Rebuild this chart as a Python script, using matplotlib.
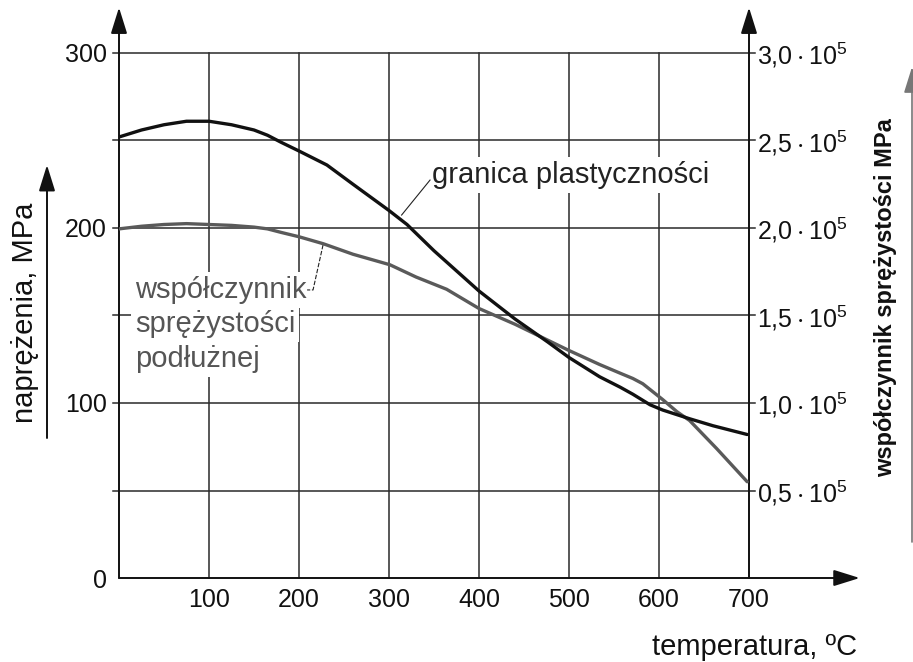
import matplotlib
matplotlib.use('Agg')
import matplotlib.pyplot as plt

plt.rcParams['font.family'] = ['Liberation Sans', 'DejaVu Sans']
plt.rcParams['mathtext.fontset'] = 'custom'
plt.rcParams['mathtext.rm'] = 'Liberation Sans'
plt.rcParams['mathtext.default'] = 'regular'

# granica plastycznosci (MPa), left axis
temp_yield = [0, 25, 50, 75, 100, 125, 150, 165, 180, 200, 231, 260, 300, 320, 350,
              400, 440, 476, 500, 534, 557, 571, 590, 604, 634, 660, 698]
yield_mpa = [252, 256, 259, 261, 261, 259, 256, 253, 249, 244, 236, 225, 210, 202, 187,
             164, 148, 135, 126, 115, 109, 105, 99, 96, 91, 87, 82]

# wspolczynnik sprezystosci (in 1000 MPa, plotted on left scale)
temp_mod = [0, 25, 50, 75, 100, 125, 150, 165, 180, 200, 227, 260, 301, 330, 364,
            400, 440, 476, 500, 534, 557, 571, 582, 604, 620, 634, 664, 698]
modulus_k = [199.5, 201, 202, 202.5, 202, 201.5, 200.5, 199.5, 197.5, 195, 191, 185, 179,
             172, 165, 154, 145, 136, 130, 122, 117, 114, 111, 102, 95, 90, 74, 55]

x_ticks = [100, 200, 300, 400, 500, 600, 700]
y_ticks = [0, 100, 200, 300]
y_grid = [50, 100, 150, 200, 250, 300]
right_ticks = [50000, 100000, 150000, 200000, 250000, 300000]
right_labels = [r'$0{,}5\cdot10^{5}$', r'$1{,}0\cdot10^{5}$', r'$1{,}5\cdot10^{5}$',
                r'$2{,}0\cdot10^{5}$', r'$2{,}5\cdot10^{5}$', r'$3{,}0\cdot10^{5}$']

W, H = 913, 662
fig = plt.figure(figsize=(W / 100, H / 100), dpi=100)
ax = fig.add_axes([119 / W, 1 - 578 / H, 630 / W, 525 / H])
ax.set_xlim(0, 700)
ax.set_ylim(0, 300)
for s in ax.spines.values():
    s.set_visible(False)

ax.set_xticks(x_ticks)
ax.set_xticklabels([str(t) for t in x_ticks])
ax.set_yticks(y_ticks)
ax.set_yticklabels([str(t) for t in y_ticks])
ax.tick_params(axis='x', length=0, pad=7, labelsize=18, colors='#111')
ax.tick_params(axis='y', length=0, pad=9, labelsize=18, colors='#111')

ax2 = ax.twinx()
ax2.set_ylim(0, 300000)
for s in ax2.spines.values():
    s.set_visible(False)
ax2.set_yticks(right_ticks)
ax2.set_yticklabels(right_labels)
ax2.tick_params(axis='y', length=0, pad=6, labelsize=18, colors='#111')

grid_c = '#2a2a2a'
for yv in y_grid:
    ax.plot([-6.7, 706.7], [yv, yv], color=grid_c, lw=1.1, zorder=1, clip_on=False)
for xv in x_ticks[:-1]:
    ax.plot([xv, xv], [0, 300], color=grid_c, lw=1.1, zorder=1, clip_on=False)

# axes with arrows
arr = dict(arrowstyle='-|>,head_length=0.8,head_width=0.25', lw=1.4, color='#111',
           shrinkA=0, shrinkB=0, mutation_scale=20)
ax.annotate('', xy=(0, 326), xytext=(0, 0), arrowprops=arr, annotation_clip=False)
ax.annotate('', xy=(700, 326), xytext=(700, 0), arrowprops=arr, annotation_clip=False)
ax.annotate('', xy=(823, 0), xytext=(0, 0), arrowprops=arr, annotation_clip=False)

# curves
ax.plot(temp_mod, modulus_k, color='#5a5a5a', lw=2.4, zorder=3, solid_capstyle='round')
ax.plot(temp_yield, yield_mpa, color='#111111', lw=2.4, zorder=4, solid_capstyle='round')

# labels on plot
box = dict(facecolor='white', edgecolor='none', pad=3)
ax.text(348, 225.7, 'granica plastyczności', fontsize=21, color='#222', ha='left',
        va='baseline', zorder=2, bbox=box)
ax.plot([314, 345.6], [207.4, 227.4], color='#222', lw=0.8, zorder=2)
for txt, yb in [('współczynnik', 160), ('sprężystości', 140.6), ('podłużnej', 120.6)]:
    ax.text(17.8, yb, txt, fontsize=21, color='#555', ha='left', va='baseline',
            zorder=2, bbox=box)
ax.plot([226.7, 215.6, 209], [190.3, 164.6, 164.6], color='#222', lw=0.8,
        ls=(0, (4, 1.5)), zorder=2)

# outer axis titles and arrows
fig.text(25 / W, 1 - 313 / H, 'naprężenia, MPa', rotation=90, fontsize=21,
         color='#111', ha='center', va='center')
fig.text(886 / W, 1 - 298 / H, 'współczynnik sprężystości MPa', rotation=90,
         fontsize=17, fontweight='bold', color='#111', ha='center', va='center')
fig.text(652 / W, 1 - 655 / H, 'temperatura, ºC', fontsize=21, color='#111',
         ha='left', va='baseline')

fig.add_artist(matplotlib.patches.FancyArrowPatch(
    (47 / W, 1 - 438 / H), (47 / W, 1 - 165 / H), transform=fig.transFigure,
    arrowstyle='-|>,head_length=0.8,head_width=0.25', mutation_scale=20,
    lw=1.4, color='#111', shrinkA=0, shrinkB=0))
fig.add_artist(matplotlib.patches.FancyArrowPatch(
    (912 / W, 1 - 542 / H), (912 / W, 1 - 67 / H), transform=fig.transFigure,
    arrowstyle='-|>,head_length=0.8,head_width=0.25', mutation_scale=20,
    lw=1.2, color='#777', shrinkA=0, shrinkB=0))

fig.savefig('out.png', dpi=100, facecolor='white')
